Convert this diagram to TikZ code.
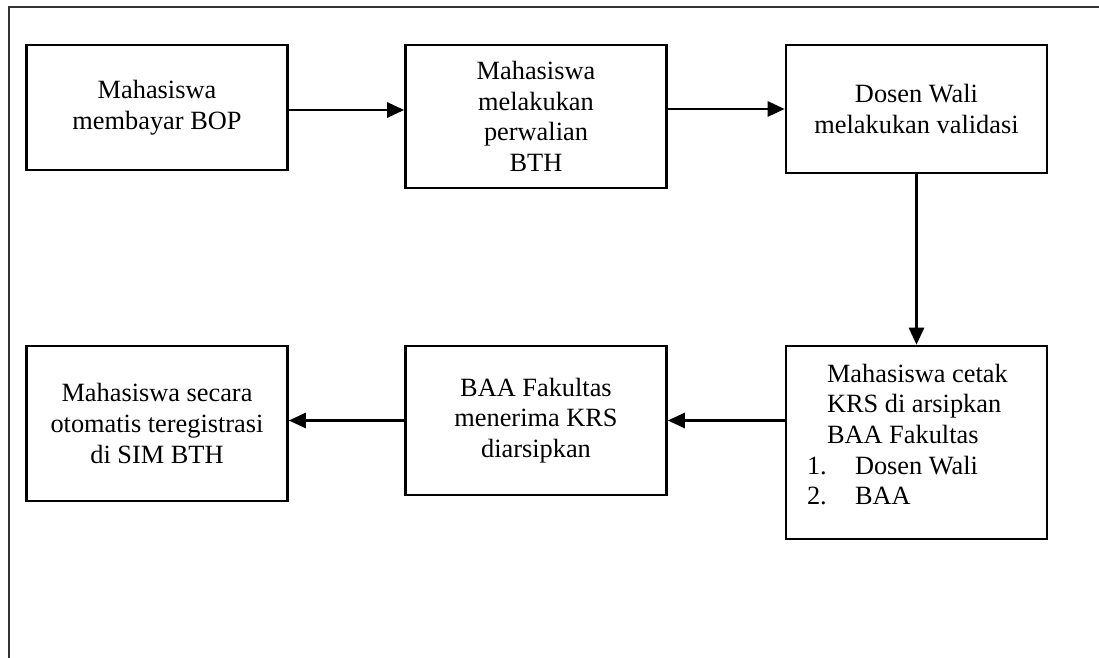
\documentclass[tikz,border=0pt]{standalone}
\usepackage{fontspec}
\setmainfont{Liberation Serif}
\usetikzlibrary{arrows.meta}

\tikzset{
  stepbox/.style={draw, line width=1.5pt, minimum width=5.22cm, inner sep=0pt,
    align=center, font=\fontsize{15}{17.4}\selectfont},
  flow/.style={-{Triangle[length=0.34cm, width=0.3cm]}, line width=1.5pt},
  canvas/.style={line width=0.8pt, draw=black!80}
}

\begin{document}
\begin{tikzpicture}[x=0.02cm, y=-0.02cm]
        \useasboundingbox (0,0) rectangle (1099,658);
        \draw[canvas] (9,658) -- (9,7) -- (1099,7);

        % top row
        \node[stepbox, minimum height=2.5cm] (bayar) at (157,107.5) {Mahasiswa\\ membayar BOP};
        \node[stepbox, minimum height=2.86cm] (perwalian) at (536,116.5) {Mahasiswa\\ melakukan\\ perwalian\\ BTH};
        \node[stepbox, minimum height=2.56cm] (validasi) at (916.5,109) {Dosen Wali\\ melakukan validasi};

        % bottom row
        \node[stepbox, minimum height=3.86cm] (cetak) at (916.5,442.5) {\parbox[c][3.86cm][t]{5.22cm}{\vspace*{0.36cm}\raggedright
          \hspace*{0.82cm}Mahasiswa cetak\\
          \hspace*{0.82cm}KRS di arsipkan\\
          \hspace*{0.82cm}BAA Fakultas\\
          \hspace*{0.42cm}\makebox[0.96cm][l]{1.}Dosen Wali\\
          \hspace*{0.42cm}\makebox[0.96cm][l]{2.}BAA}};
        \node[stepbox, minimum height=2.98cm] (arsip) at (536,420.5) {BAA Fakultas\\ menerima KRS\\ diarsipkan};
        \node[stepbox, minimum height=3.1cm] (registrasi) at (157,423.5) {Mahasiswa secara\\ otomatis teregistrasi\\ di SIM BTH};

        \draw[flow] (bayar.east |- 0,110) -- (perwalian.west |- 0,110);
        \draw[flow] (perwalian.east |- validasi.west) -- (validasi.west);
        \draw[flow] (validasi.south) -- (cetak.north);
        \draw[flow] (cetak.west |- arsip.east) -- (arsip.east);
        \draw[flow] (arsip.west) -- (arsip.west -| registrasi.east);
      \end{tikzpicture}
\end{document}
